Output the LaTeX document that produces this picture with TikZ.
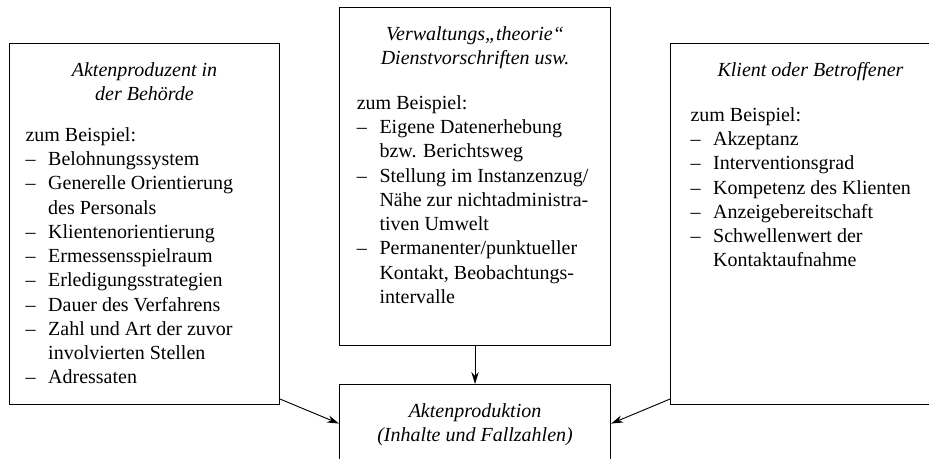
\documentclass[tikz,border=0pt]{standalone}
\usepackage{fontspec}
\setmainfont{Liberation Serif}
\usetikzlibrary{arrows.meta,positioning}

% box text: width, height, contents
\newcommand{\boxtext}[3]{\begin{minipage}[t][#2][t]{#1}\raggedright\vspace*{14pt}#3\end{minipage}}
\newcommand{\boxtitle}[2][14pt]{{\centering\itshape #2\par}\vspace{#1}}
\newcommand{\itm}[1]{\par\hangindent=17pt\hangafter=1\noindent\makebox[17pt][l]{--}#1}

\tikzset{
  infobox/.style={draw, line width=0.8pt, anchor=north west, inner xsep=12pt, inner ysep=0pt,
    font=\fontsize{15}{18.2}\selectfont},
  flow/.style={-{Stealth[length=9pt,width=5.5pt]}, line width=0.7pt}
}

\begin{document}
\begin{tikzpicture}[x=0.75pt, y=-0.75pt]

  % === frame (pixel units, y downwards) ===
  \useasboundingbox (0,0) rectangle (929,459);
  \clip (0,0) rectangle (929,459);

  % === boxes ===
  \node[infobox] (prod) at (9,43) {\boxtext{178.5pt}{270.75pt}{%
    \boxtitle[12.5pt]{Aktenproduzent in\\der Behörde}
    zum Beispiel:
    \itm{Belohnungssystem}
    \itm{Generelle Orientierung\newline des Personals}
    \itm{Klientenorientierung}
    \itm{Ermessensspielraum}
    \itm{Erledigungsstrategien}
    \itm{Dauer des Verfahrens}
    \itm{Zahl und Art der zuvor\newline involvierten Stellen}
    \itm{Adressaten}}};

  \node[infobox, inner xsep=13pt] (theory) at (339,7) {\boxtext{177.25pt}{253.5pt}{%
    \boxtitle[15.5pt]{Verwaltungs„theorie“\\Dienstvorschriften usw.}
    zum Beispiel:
    \itm{Eigene Datenerhebung\newline bzw. Berichtsweg}
    \itm{Stellung im Instanzenzug/\newline Nähe zur nichtadministra-\newline tiven Umwelt}
    \itm{Permanenter/punktueller\newline Kontakt, Beobachtungs-\newline intervalle}}};

  \node[infobox, inner xsep=15pt] (client) at (670,43) {\boxtext{180pt}{270.75pt}{%
    \boxtitle[15.5pt]{Klient oder Betroffener}
    zum Beispiel:
    \itm{Akzeptanz}
    \itm{Interventionsgrad}
    \itm{Kompetenz des Klienten}
    \itm{Anzeigebereitschaft}
    \itm{Schwellenwert der\newline Kontaktaufnahme}}};

  \node[infobox, below=28.5pt of theory] (files) {\boxtext{179.25pt}{58.5pt}{%
    {\centering\itshape Aktenproduktion\\(Inhalte und Fallzahlen)\par}}};

  % === connectors ===
  \draw[flow] ([yshift=4.5pt]prod.south east) -- (files.west);
  \draw[flow] (theory.south) -- (files.north);
  \draw[flow] ([yshift=4.5pt]client.south west) -- (files.east);

\end{tikzpicture}
\end{document}
